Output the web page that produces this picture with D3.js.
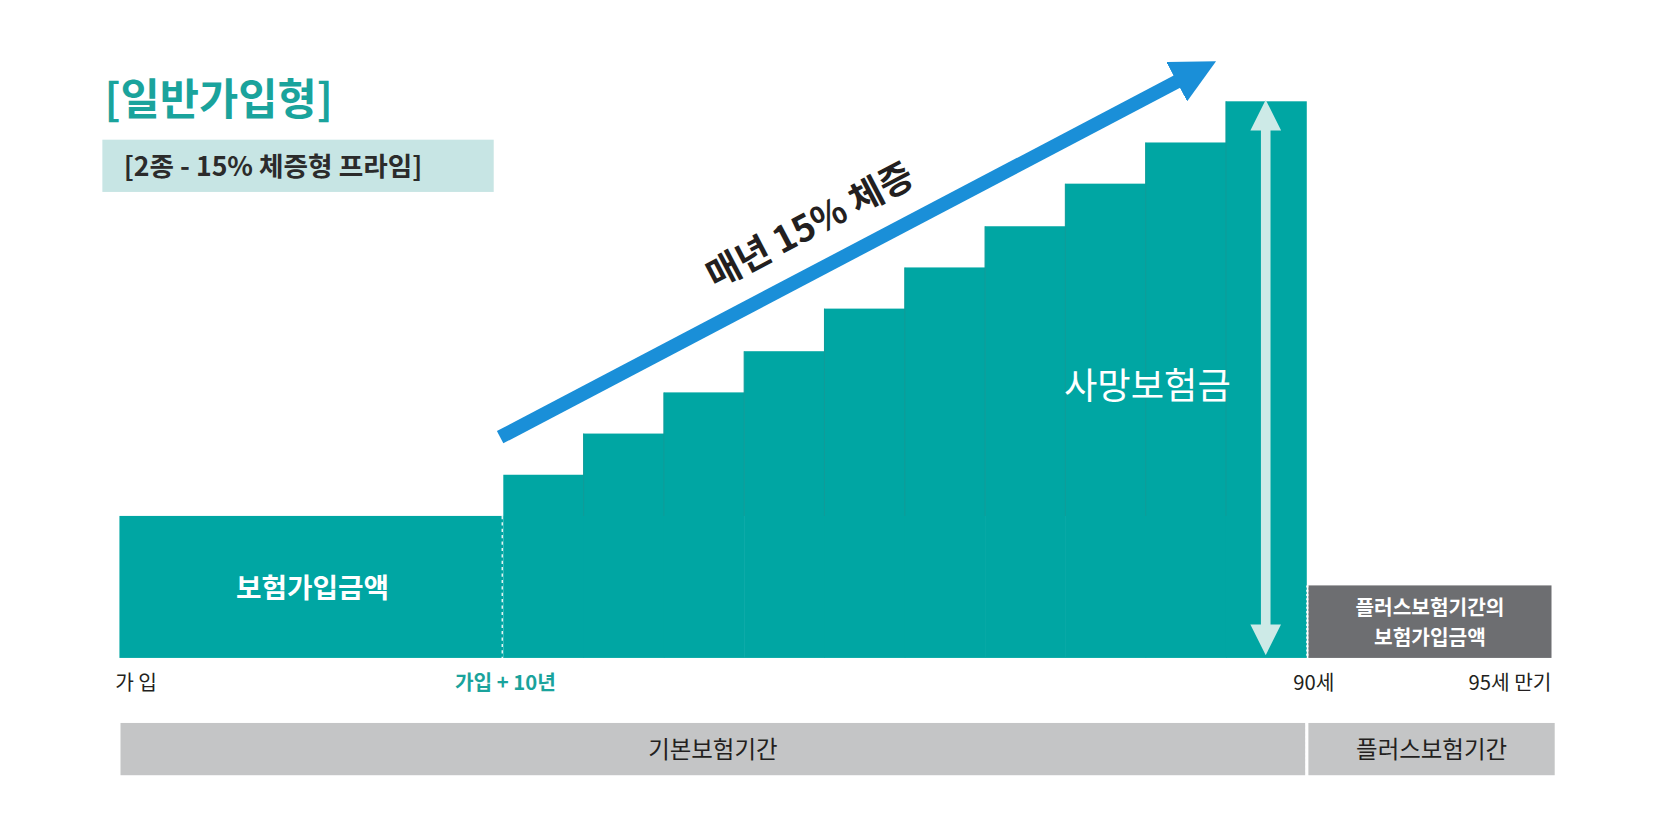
<!DOCTYPE html>
<html><head><meta charset="utf-8">
<script src="https://cdn.jsdelivr.net/npm/d3@7"></script>
<style>body{margin:0;background:#fff;} text{font-family:"Noto Sans CJK KR","Noto Sans",sans-serif;}</style>
</head><body>
<script>
var baseValue = 100;
var stepValues = [129, 158, 187, 216, 246, 275, 304, 334, 363, 392];
var stepYears = ["11","12","13","14","15","16","17","18","19","20"];
var axisLabels = ["가 입", "가입 + 10년", "90세", "95세 만기"];
var periodLabels = ["기본보험기간", "플러스보험기간"];

var w = 1672, h = 831;
var teal = "#00a6a3";
var root = d3.select("body").append("svg").attr("width", w).attr("height", h);
var svg = root.append("g").attr("transform", "scale(" + (1672 / 1568) + ")");

var yScale = d3.scaleLinear().domain([0, d3.max(stepValues)]).range([617, 95]);
var xScale = d3.scaleBand().domain(stepYears).range([472, 1225]).paddingInner(0);

// title
svg.append("text").text("[일반가입형]").attr("x", 98).attr("y", 108)
   .attr("font-size", "40px").attr("font-weight", "bold").attr("fill", "#1aa39c");
svg.append("rect").attr("x", 96).attr("y", 131).attr("width", 367).attr("height", 49).attr("fill", "#c7e5e4");
svg.append("text").text("[2종 - 15% 체증형 프라임]").attr("x", 116).attr("y", 165)
   .attr("font-size", "25px").attr("font-weight", "bold").attr("fill", "#2b2b2b");

// base block
svg.append("rect").attr("x", 112).attr("y", yScale(baseValue)).attr("width", 360)
   .attr("height", yScale(0) - yScale(baseValue)).attr("fill", teal);

// stepped bars
svg.selectAll("rect.step").data(stepValues).enter().append("rect").attr("class", "step")
   .attr("x", function(d, i) { return xScale(stepYears[i]); })
   .attr("y", function(d) { return yScale(d); })
   .attr("width", xScale.bandwidth() + 0.5)
   .attr("height", function(d) { return yScale(0) - yScale(d); })
   .attr("fill", teal);

// faint separators between steps
svg.selectAll("line.sep").data(stepValues.slice(1)).enter().append("line")
   .attr("x1", function(d, i) { return xScale(stepYears[i + 1]); })
   .attr("x2", function(d, i) { return xScale(stepYears[i + 1]); })
   .attr("y1", function(d, i) { return yScale(d); })
   .attr("y2", yScale(baseValue))
   .attr("stroke", "#0f9c99").attr("stroke-width", 1);

svg.append("line").attr("x1", 471).attr("x2", 471).attr("y1", yScale(baseValue)).attr("y2", 617)
   .attr("stroke", "#fff").attr("stroke-width", 1.2).attr("stroke-dasharray", "3,3");

svg.append("text").text("보험가입금액").attr("x", 293).attr("y", 561).attr("text-anchor", "middle")
   .attr("font-size", "26px").attr("font-weight", "bold").attr("fill", "#fff");

// plus block
svg.append("rect").attr("x", 1227).attr("y", 549).attr("width", 228).attr("height", 68).attr("fill", "#6d6e71");
svg.append("line").attr("x1", 1226).attr("x2", 1226).attr("y1", 549).attr("y2", 617)
   .attr("stroke", "#fff").attr("stroke-width", 2).attr("stroke-dasharray", "2,2");
svg.append("text").text("플러스보험기간의").attr("x", 1341).attr("y", 577).attr("text-anchor", "middle")
   .attr("font-size", "19px").attr("font-weight", "bold").attr("fill", "#fff");
svg.append("text").text("보험가입금액").attr("x", 1341).attr("y", 605).attr("text-anchor", "middle")
   .attr("font-size", "19px").attr("font-weight", "bold").attr("fill", "#fff");

// arrow heads
var defs = root.append("defs");
function marker(id, color, path) {
  defs.append("marker").attr("id", id).attr("viewBox", "0 0 10 10").attr("refX", 5).attr("refY", 5)
    .attr("markerWidth", 3.2).attr("markerHeight", 3.2).attr("orient", "auto-start-reverse")
    .append("path").attr("d", path).attr("fill", color);
}
marker("ha", "#cdeae7", "M0,0L10,5L0,10z");
marker("hb", "#1a8fd8", "M0,0L10,5L0,10z");
svg.append("line").attr("x1", 1187).attr("x2", 1187).attr("y1", 108).attr("y2", 600)
   .attr("stroke", "#cdeae7").attr("stroke-width", 9)
   .attr("marker-start", "url(#ha)").attr("marker-end", "url(#ha)");
svg.append("text").text("사망보험금").attr("x", 1076).attr("y", 374).attr("text-anchor", "middle")
   .attr("font-size", "34px").attr("fill", "#fff");

// growth arrow
svg.append("line").attr("x1", 469).attr("y1", 410).attr("x2", 1122).attr("y2", 67)
   .attr("stroke", "#1a8fd8").attr("stroke-width", 13).attr("marker-end", "url(#hb)");
svg.append("text").text("매년 15% 체증").attr("text-anchor", "middle")
   .attr("transform", "translate(765,222) rotate(-27.7)")
   .attr("font-size", "34px").attr("font-weight", "bold").attr("fill", "#231f20");

// axis labels
var axX = [108, 474, 1232, 1455];
var axAnchor = ["start", "middle", "middle", "end"];
svg.selectAll("text.ax").data(axisLabels).enter().append("text")
   .text(function(d) { return d; })
   .attr("x", function(d, i) { return axX[i]; }).attr("y", 647)
   .attr("text-anchor", function(d, i) { return axAnchor[i]; })
   .attr("font-size", "19px").attr("font-weight", function(d, i) { return i == 1 ? "bold" : "normal"; })
   .attr("fill", function(d, i) { return i == 1 ? "#1aa39c" : "#231f20"; });

// period bars
var pX = [113, 1227], pW = [1111, 231];
svg.selectAll("rect.per").data(periodLabels).enter().append("rect")
   .attr("x", function(d, i) { return pX[i]; }).attr("y", 678)
   .attr("width", function(d, i) { return pW[i]; }).attr("height", 49).attr("fill", "#c4c5c6");
svg.append("line").attr("x1", 1225.5).attr("x2", 1225.5).attr("y1", 678).attr("y2", 727)
   .attr("stroke", "#fff").attr("stroke-width", 2).attr("stroke-dasharray", "2,2");
svg.selectAll("text.per").data(periodLabels).enter().append("text")
   .text(function(d) { return d; })
   .attr("x", function(d, i) { return pX[i] + pW[i] / 2; }).attr("y", 711)
   .attr("text-anchor", "middle").attr("font-size", "22px").attr("fill", "#231f20");
</script>
</body></html>
